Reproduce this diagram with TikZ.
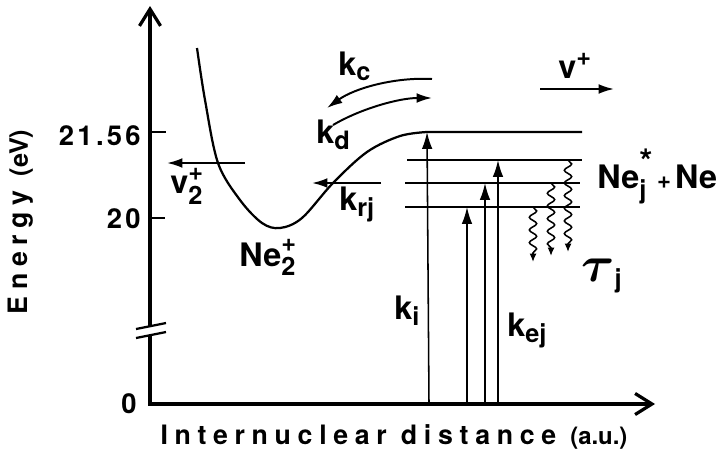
\documentclass[tikz,border=0pt]{standalone}
\usepackage{amsmath}
\usepackage{graphicx}
\usepackage{fontspec}
\setmainfont{TeX Gyre Heros}
\newfontfamily\spacedfont{TeX Gyre Heros}[LetterSpace=25]
\newfontfamily\numfont{TeX Gyre Heros}[LetterSpace=12]
\DeclareMathSizes{23}{23}{18}{14}
\usetikzlibrary{arrows.meta, decorations.pathmorphing, positioning}

\begin{document}
\begin{tikzpicture}[
    x=0.025cm, y=-0.025cm,
    axisline/.style={draw, line width=2.3pt, -{Straight Barb[length=12pt, width=15pt, line width=2.3pt]}},
    level/.style={draw, line width=1.6pt},
    line/.style={draw, line width=1.4pt, -{Latex[length=11pt, width=7pt]}},
    excite/.style={draw, line width=1.1pt, -{Latex[length=12pt, width=7.5pt]}},
    decay/.style={draw, line width=1.1pt, -{Latex[length=6pt, width=5pt]}, decorate,
        decoration={snake, amplitude=2.6pt, segment length=9pt, post length=5pt}},
    lab/.style={anchor=base west, inner sep=0pt, font=\fontsize{23}{26}\selectfont\bfseries},
    ticklab/.style={anchor=east, inner sep=0pt, font=\numfont\fontsize{19.5}{22}\selectfont\bfseries}
]
\useasboundingbox (0,0) rectangle (720,460);

% axes with break
\path [axisline] (150,326) -- (150,6);
\path [axisline] (150,336) -- (150,404) -- (655,404);
\draw [line width=1.6pt] (136,329) -- (166,323);
\draw [line width=1.6pt] (136,338) -- (166,332);
\draw [line width=1.6pt] (150,132) -- (166,132);
\draw [line width=1.6pt] (150,218) -- (165,218);

\node [ticklab] (e2156) at (141,136) {21.56};
\node [ticklab] (e20) at (141,219) {20};
\node [ticklab] (e0) at (137,404) {0};
\node [rotate=90, font=\fontsize{19}{22}\selectfont\bfseries] (ylab) at (21,222)
    {\spacedfont Energy {\normalfont\bfseries\fontsize{18}{20}\selectfont(eV)}};
\node [font=\fontsize{19}{22}\selectfont\bfseries] (xlab) at (394,437)
    {\spacedfont Internuclear distance {\normalfont\bfseries\fontsize{17}{20}\selectfont(a.u.)}};

% Ne2+ potential and levels
\coordinate (top) at (427,132);
\path [level] plot [smooth, tension=0.55] coordinates {(197,48) (205,100) (218,163) (240,200)
    (262,223) (280,228) (302,218) (333,183) (367,152) (400,136) (top)} -- (582,132);
\coordinate (lev2) at (407,160);
\coordinate (lev3) at (405,183);
\coordinate (lev4) at (405,207);
\path [level] (lev2) -- (582,160);
\path [level] (lev3) -- (580,183);
\path [level] (lev4) -- (580,207);

% excitation
\path [excite] (429,404) -- (top);
\path [excite] (467,404) -- (467,207);
\path [excite] (485,404) -- (485,183);
\path [excite] (498,404) -- (498,160);

% radiative decay
\path [decay] (568,160) -- (568,252);
\path [decay] (551,183) -- (551,256);
\path [decay] (533,207) -- (533,262);

% horizontal flows
\path [line] (245,163) -- (167,163);
\path [line] (381,183) -- (312,183);
\path [line] (540,89) -- (614,89);
\path [line] (432,79) .. controls (395,77) and (355,88) .. (327,108);
\path [line] (333,125) .. controls (362,108) and (400,98) .. (432,98);

\node [lab] (kc) at (338,75) {$\text{k}_{\text{c}}$};
\node [lab] (kd) at (316,143) {$\text{k}_{\text{d}}$};
\node [lab] (krj) at (339,210) {$\text{k}_{\text{rj}}$};
\node [lab] (v2) at (170,193) {$\text{v}_{\text{2}}^{\text{+}}$};
\node [lab] (vp) at (558,78) {$\text{v}^{\text{+}}$};
\node [lab] (ne2) at (239,266) {$\text{Ne}_{\text{2}}^{\text{+}}$};
\node [lab] (nej) at (597,188) {$\text{Ne}_{\text{j}}^{\text{\fontsize{24}{24}\selectfont*}}\text{\fontsize{17}{17}\selectfont\,+\,}\text{Ne}$};
\node [lab] (tau) at (581,281) {$\text{\scalebox{1.45}{$\boldsymbol{\tau}$}}_{\text{j}}$};
\node [lab] (ki) at (394,319) {$\text{k}_{\text{i}}$};
\node [lab] (kej) at (507,336) {$\text{k}_{\text{ej}}$};

\end{tikzpicture}
\end{document}
